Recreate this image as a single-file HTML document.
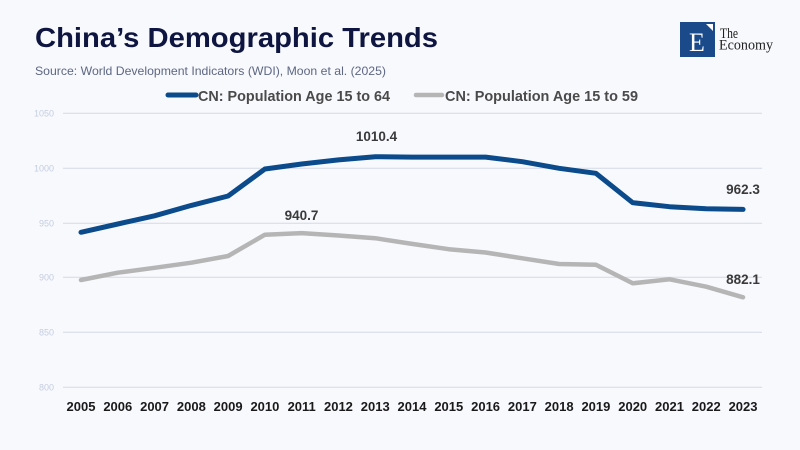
<!DOCTYPE html>
<html><head><meta charset="utf-8"><style>
html,body{margin:0;padding:0;background:#f8f9fd;}
svg{display:block;}
</style></head><body>
<svg width="800" height="450" viewBox="0 0 800 450" xmlns="http://www.w3.org/2000/svg">
<rect width="800" height="450" fill="#f8f9fd"/>
<text x="35" y="47" font-family="Liberation Sans, sans-serif" font-weight="bold" font-size="28" fill="#0e1540" textLength="403" lengthAdjust="spacingAndGlyphs">China’s Demographic Trends</text>
<text x="35" y="75" font-family="Liberation Sans, sans-serif" font-size="12" fill="#5d6784" textLength="351" lengthAdjust="spacingAndGlyphs">Source: World Development Indicators (WDI), Moon et al. (2025)</text>
<!-- legend -->
<line x1="168" y1="95" x2="196" y2="95" stroke="#0b4a8b" stroke-width="5" stroke-linecap="round"/>
<text x="198" y="101" font-family="Liberation Sans, sans-serif" font-weight="bold" font-size="15" fill="#4a4a4a" textLength="192" lengthAdjust="spacingAndGlyphs">CN: Population Age 15 to 64</text>
<line x1="416" y1="95" x2="442" y2="95" stroke="#b5b5b5" stroke-width="4.5" stroke-linecap="round"/>
<text x="445" y="101" font-family="Liberation Sans, sans-serif" font-weight="bold" font-size="15" fill="#4a4a4a" textLength="193" lengthAdjust="spacingAndGlyphs">CN: Population Age 15 to 59</text>
<!-- logo -->
<rect x="680" y="22" width="35" height="35" fill="#1b4a8a"/>
<polygon points="706,24 713,24 713,31" fill="#ffffff"/>
<text x="697" y="51" text-anchor="middle" font-family="Liberation Serif, serif" font-size="26" fill="#ffffff">E</text>
<text x="720" y="38" font-family="Liberation Serif, serif" font-size="14.5" fill="#222" textLength="18" lengthAdjust="spacingAndGlyphs">The</text>
<text x="719" y="49.5" font-family="Liberation Serif, serif" font-size="14.5" fill="#222" textLength="54" lengthAdjust="spacingAndGlyphs">Economy</text>
<!-- grid -->
<g stroke="#d3d9e5" stroke-width="1">
<line x1="63" y1="113.3" x2="762" y2="113.3"/>
<line x1="63" y1="168.3" x2="762" y2="168.3"/>
<line x1="63" y1="223.3" x2="762" y2="223.3"/>
<line x1="63" y1="277.3" x2="762" y2="277.3"/>
<line x1="63" y1="332.3" x2="762" y2="332.3"/>
<line x1="63" y1="387.3" x2="762" y2="387.3"/>
</g>
<g font-family="Liberation Sans, sans-serif" font-size="9" fill="#c4cde0" text-anchor="end">
<text x="54" y="116.5">1050</text>
<text x="54" y="171.5">1000</text>
<text x="54" y="226.5">950</text>
<text x="54" y="280.5">900</text>
<text x="54" y="335.5">850</text>
<text x="54" y="390.5">800</text>
</g>
<!-- series -->
<polyline fill="none" stroke="#b5b5b5" stroke-width="4.5" stroke-linecap="round" stroke-linejoin="round" points="81,280.0 117.78,272.7 154.56,267.8 191.34,262.7 228.12,256.0 264.9,234.7 301.68,233.1 338.46,235.5 375.24,238.2 412.02,243.9 448.8,249.2 485.58,252.5 522.36,258.3 559.14,264.0 595.92,264.7 632.7,283.3 669.48,279.3 706.26,286.7 743.04,297.3"/>
<polyline fill="none" stroke="#0b4a8b" stroke-width="5" stroke-linecap="round" stroke-linejoin="round" points="81,232.3 117.78,224.0 154.56,215.8 191.34,205.4 228.12,196.0 264.9,169.0 301.68,164.0 338.46,159.9 375.24,156.7 412.02,157.1 448.8,157.1 485.58,157.1 522.36,161.7 559.14,168.3 595.92,173.3 632.7,202.7 669.48,206.7 706.26,208.7 743.04,209.4"/>
<!-- data labels -->
<g font-family="Liberation Sans, sans-serif" font-weight="bold" font-size="13.5" fill="#3a3a3a" text-anchor="middle">
<text x="376.5" y="141">1010.4</text>
<text x="301.5" y="220">940.7</text>
<text x="743" y="194">962.3</text>
<text x="743" y="284">882.1</text>
</g>
<!-- x labels -->
<g font-family="Liberation Sans, sans-serif" font-weight="bold" font-size="13" fill="#1a1a1a" text-anchor="middle">
<text x="81" y="411">2005</text>
<text x="117.78" y="411">2006</text>
<text x="154.56" y="411">2007</text>
<text x="191.34" y="411">2008</text>
<text x="228.12" y="411">2009</text>
<text x="264.9" y="411">2010</text>
<text x="301.68" y="411">2011</text>
<text x="338.46" y="411">2012</text>
<text x="375.24" y="411">2013</text>
<text x="412.02" y="411">2014</text>
<text x="448.8" y="411">2015</text>
<text x="485.58" y="411">2016</text>
<text x="522.36" y="411">2017</text>
<text x="559.14" y="411">2018</text>
<text x="595.92" y="411">2019</text>
<text x="632.7" y="411">2020</text>
<text x="669.48" y="411">2021</text>
<text x="706.26" y="411">2022</text>
<text x="743.04" y="411">2023</text>
</g>
</svg>
</body></html>
